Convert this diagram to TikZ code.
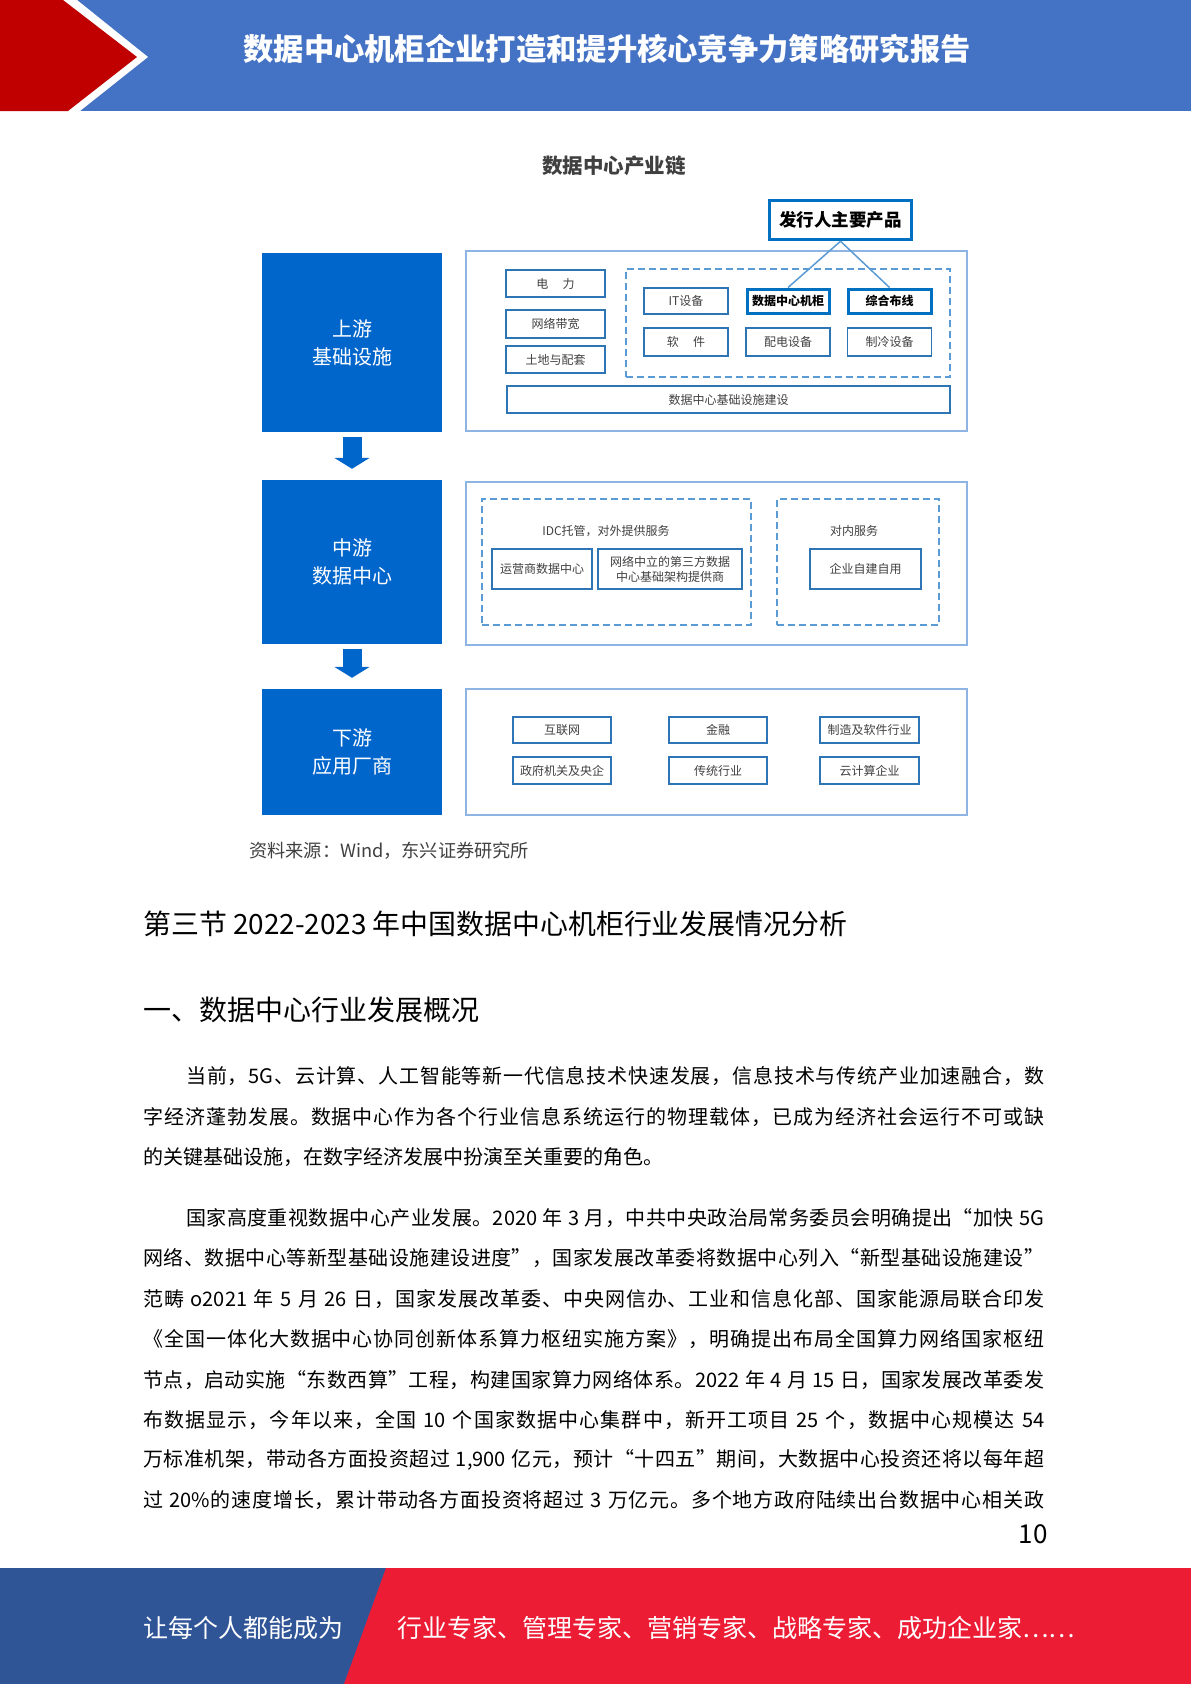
\documentclass[tikz,border=0pt]{standalone}
\usepackage{fontspec}
\setmainfont{Noto Sans CJK SC}
\usetikzlibrary{arrows.meta}
\XeTeXinterchartokenstate=1
\newXeTeXintercharclass\cjkcls
\count255="3000
\loop
  \XeTeXcharclass\count255=\cjkcls
  \ifnum\count255<"9FFF \advance\count255 by 1
\repeat
\count255="FF00
\loop
  \XeTeXcharclass\count255=\cjkcls
  \ifnum\count255<"FFEF \advance\count255 by 1
\repeat
\XeTeXcharclass"201C=\cjkcls
\XeTeXcharclass"201D=\cjkcls
\XeTeXcharclass"2026=\cjkcls
\XeTeXinterchartoks\cjkcls\cjkcls={\hskip0pt plus 1pt\relax}
\XeTeXinterchartoks\cjkcls 0={\hskip0pt plus 1pt\relax}
\XeTeXinterchartoks 0\cjkcls={\hskip0pt plus 1pt\relax}
\definecolor{hdrblue}{HTML}{4472C4}
\definecolor{hdrred}{HTML}{C00000}
\definecolor{stageblue}{HTML}{0066CC}
\definecolor{panelblue}{HTML}{8DB4E2}
\definecolor{itemblue}{HTML}{2E75B6}
\definecolor{keyblue}{HTML}{0070C0}
\definecolor{dashblue}{HTML}{5B9BD5}
\definecolor{txtgray}{HTML}{404040}
\definecolor{footblue}{HTML}{2F5597}
\definecolor{footred}{HTML}{ED1C35}
\newcommand\bodyfont{\fontsize{20}{24}\selectfont}
\newcommand\fullline[1]{\hbox to 901pt{#1}}
\tikzset{
  dcstage/.style={fill=stageblue, text=white, font=\fontsize{20}{28}\selectfont, align=center, inner sep=0pt, minimum width=180pt},
  dcpanel/.style={draw=panelblue, line width=1.5pt, minimum width=501pt, inner sep=0pt},
  dcitem/.style={draw=itemblue, line width=1.4pt, font=\fontsize{12}{14}\selectfont, text=txtgray, inner sep=0pt, align=center},
  dckey/.style={dcitem, draw=keyblue, line width=3pt, font=\fontsize{12}{14}\selectfont\bfseries, text=black},
  dcgroup/.style={draw=dashblue, line width=2pt, dash pattern=on 7pt off 4pt, inner sep=0pt},
  dclabel/.style={font=\fontsize{12}{14}\selectfont, text=txtgray, inner sep=0pt},
  dclink/.style={draw=dashblue, line width=1.5pt},
  dcflow/.style={draw=stageblue, line width=19pt, -{Triangle[width=35pt,length=11pt]}},
  bodyline/.style={anchor=west, inner sep=0pt, font=\bodyfont, text=black},
}
\begin{document}
\begin{tikzpicture}[x=1pt,y=-1pt]
\useasboundingbox (0,0) rectangle (1191,1684);
\fill[white] (0,0) rectangle (1191,1684);
% header
\fill[hdrblue] (0,0) rectangle (1191,111);
\fill[white] (0,0) -- (77,0) -- (148,57) -- (80,111) -- (0,111) -- cycle;
\fill[hdrred] (0,0) -- (63,0) -- (137,57) -- (68,111) -- (0,111) -- cycle;
\node[font=\fontsize{30.3}{36}\selectfont\bfseries, text=white, inner sep=0pt] (title) at (607,49) {数据中心机柜企业打造和提升核心竞争力策略研究报告};

% diagram title
\node[font=\fontsize{20.5}{24}\selectfont\bfseries, text=txtgray, inner sep=0pt] (dtitle) at (614,166) {数据中心产业链};

% stages
\node[dcstage, minimum height=179pt] (up) at (352,342.5) {上游\\基础设施};
\node[dcstage, minimum height=164pt] (mid) at (352,562) {中游\\数据中心};
\node[dcstage, minimum height=126pt] (down) at (352,752) {下游\\应用厂商};
\draw[dcflow] ([yshift=-5pt]up.south) -- ([yshift=11pt]mid.north);
\draw[dcflow] ([yshift=-5pt]mid.south) -- ([yshift=11pt]down.north);

% panels
\node[dcpanel, minimum height=180pt] (p1) at (716.5,341) {};
\node[dcpanel, minimum height=163pt] (p2) at (716.5,563.5) {};
\node[dcpanel, minimum height=126pt] (p3) at (716.5,752) {};

% upstream contents
\node[dcitem, minimum width=99pt, minimum height=27pt] (power) at (555.5,283.5) {电\hspace{1.2em}力};
\node[dcitem, minimum width=99pt, minimum height=28pt] (band) at (555.5,324) {网络带宽};
\node[dcitem, minimum width=99pt, minimum height=27pt] (land) at (555.5,359.5) {土地与配套};
\node[dcgroup, minimum width=324pt, minimum height=108pt] (eqgrp) at (788,323) {};
\node[dcitem, minimum width=84pt, minimum height=26pt] (it) at (686,301) {IT设备};
\node[dckey, minimum width=82pt, minimum height=24pt] (cab) at (788,301) {数据中心机柜};
\node[dckey, minimum width=83pt, minimum height=24pt] (wire) at (889.5,301) {综合布线};
\node[dcitem, minimum width=84pt, minimum height=28pt] (soft) at (686,342) {软\hspace{1.2em}件};
\node[dcitem, minimum width=84pt, minimum height=28pt] (pdu) at (788,342) {配电设备};
\node[dcitem, minimum width=84pt, minimum height=28pt] (cool) at (889.5,342) {制冷设备};
\node[dcitem, minimum width=443pt, minimum height=27pt] (infra) at (728.5,399.5) {数据中心基础设施建设};
\node[dckey, draw=keyblue, line width=3.5pt, minimum width=142pt, minimum height=39pt, font=\fontsize{17.5}{20}\selectfont\bfseries] (prod) at (840.5,220) {发行人主要产品};
\draw[dclink] (prod.south) -- (cab.north);
\draw[dclink] (prod.south) -- (wire.north);

% midstream contents
\node[dcgroup, minimum width=269pt, minimum height=126pt] (idcgrp) at (616.5,562) {};
\node[dclabel] (idclbl) at (606,531) {IDC托管，对外提供服务};
\node[dcitem, minimum width=100pt, minimum height=40pt] (opdc) at (542,569) {运营商数据中心};
\node[dcitem, minimum width=144pt, minimum height=40pt, font=\fontsize{12}{15}\selectfont] (neutral) at (670,569) {网络中立的第三方数据\\中心基础架构提供商};
\node[dcgroup, minimum width=162pt, minimum height=126pt] (ingrp) at (858,562) {};
\node[dclabel] (inlbl) at (854,531) {对内服务};
\node[dcitem, minimum width=111pt, minimum height=40pt] (self) at (865.5,569) {企业自建自用};

% downstream contents
\node[dcitem, minimum width=98pt, minimum height=26pt] (net) at (562,730) {互联网};
\node[dcitem, minimum width=98pt, minimum height=27pt] (gov) at (562,770.5) {政府机关及央企};
\node[dcitem, minimum width=98pt, minimum height=26pt] (fin) at (718,730) {金融};
\node[dcitem, minimum width=98pt, minimum height=27pt] (trad) at (718,770.5) {传统行业};
\node[dcitem, minimum width=99pt, minimum height=26pt] (mfg) at (869.5,730) {制造及软件行业};
\node[dcitem, minimum width=99pt, minimum height=27pt] (cloud) at (869.5,770.5) {云计算企业};

% source
\node[anchor=west, inner sep=0pt, font=\fontsize{18.2}{21}\selectfont, text=txtgray] (src) at (249,851) {资料来源：Wind，东兴证券研究所};

% headings
\node[anchor=west, inner sep=0pt, font=\fontsize{27.9}{32}\selectfont, text=black] (h1) at (143,924) {第三节 2022-2023 年中国数据中心机柜行业发展情况分析};
\node[anchor=west, inner sep=0pt, font=\fontsize{28}{32}\selectfont, text=black] (h2) at (143,1010) {一、数据中心行业发展概况};

% body
\node[bodyline] (b1) at (143,1076) {\fullline{\hspace*{43pt}当前，5G、云计算、人工智能等新一代信息技术快速发展，信息技术与传统产业加速融合，数}};
\node[bodyline] (b2) at (143,1117) {\fullline{字经济蓬勃发展。数据中心作为各个行业信息系统运行的物理载体，已成为经济社会运行不可或缺}};
\node[bodyline] (b3) at (143,1157) {的关键基础设施，在数字经济发展中扮演至关重要的角色。};
\node[bodyline] (b4) at (143,1218) {\fullline{\hspace*{43pt}国家高度重视数据中心产业发展。2020 年 3 月，中共中央政治局常务委员会明确提出“加快 5G}};
\node[bodyline] (b5) at (143,1258) {\fullline{网络、数据中心等新型基础设施建设进度”，国家发展改革委将数据中心列入“新型基础设施建设”}};
\node[bodyline] (b6) at (143,1299) {\fullline{范畴 o2021 年 5 月 26 日，国家发展改革委、中央网信办、工业和信息化部、国家能源局联合印发}};
\node[bodyline] (b7) at (143,1339) {\fullline{《全国一体化大数据中心协同创新体系算力枢纽实施方案》，明确提出布局全国算力网络国家枢纽}};
\node[bodyline] (b8) at (143,1380) {\fullline{节点，启动实施“东数西算”工程，构建国家算力网络体系。2022 年 4 月 15 日，国家发展改革委发}};
\node[bodyline] (b9) at (143,1420) {\fullline{布数据显示，今年以来，全国 10 个国家数据中心集群中，新开工项目 25 个，数据中心规模达 54}};
\node[bodyline] (b10) at (143,1460) {\fullline{万标准机架，带动各方面投资超过 1,900 亿元，预计“十四五”期间，大数据中心投资还将以每年超}};
\node[bodyline] (b11) at (143,1500) {\fullline{过 20\%的速度增长，累计带动各方面投资将超过 3 万亿元。多个地方政府陆续出台数据中心相关政}};

% page number
\node[font=\fontsize{26}{30}\selectfont, text=black, inner sep=0pt] (pg) at (1033,1534) {10};

% footer
\fill[footblue] (0,1568) rectangle (1191,1684);
\fill[footred] (386,1568) -- (1191,1568) -- (1191,1684) -- (344,1684) -- cycle;
\node[anchor=west, inner sep=0pt, font=\fontsize{25}{30}\selectfont, text=white] (ft1) at (143,1628) {让每个人都能成为};
\node[anchor=west, inner sep=0pt, font=\fontsize{25}{30}\selectfont, text=white] (ft2) at (397,1628) {行业专家、管理专家、营销专家、战略专家、成功企业家……};
\end{tikzpicture}
\end{document}
